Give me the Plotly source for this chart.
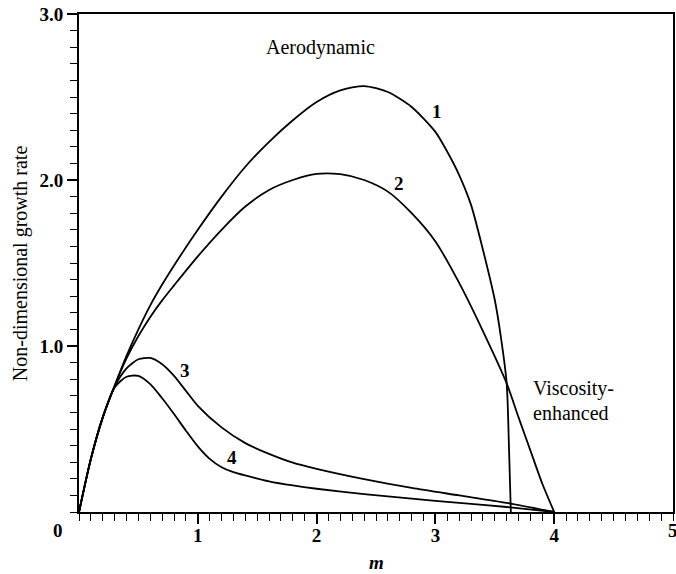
import plotly.graph_objects as go

# Curve data (m, non-dimensional growth rate)
m1 = [0, 0.1, 0.2, 0.3, 0.4, 0.5, 0.6, 0.7, 0.8, 1.0, 1.2, 1.4, 1.6, 1.8, 2.0, 2.2, 2.4, 2.6, 2.8, 3.0, 3.1, 3.2, 3.3, 3.4, 3.5, 3.55, 3.6, 3.62, 3.635]
g1 = [0, 0.32, 0.57, 0.76, 0.94, 1.10, 1.245, 1.37, 1.485, 1.70, 1.90, 2.08, 2.23, 2.36, 2.47, 2.54, 2.566, 2.53, 2.44, 2.29, 2.17, 2.03, 1.85, 1.58, 1.277, 1.06, 0.775, 0.373, 0]

m2 = [0, 0.1, 0.2, 0.3, 0.4, 0.5, 0.6, 0.7, 0.8, 1.0, 1.2, 1.4, 1.6, 1.8, 2.0, 2.2, 2.4, 2.6, 2.8, 3.0, 3.2, 3.4, 3.6, 3.7, 3.8, 3.9, 4.0]
g2 = [0, 0.32, 0.57, 0.76, 0.925, 1.06, 1.175, 1.275, 1.365, 1.54, 1.70, 1.84, 1.94, 2.0, 2.037, 2.035, 2.0, 1.93, 1.80, 1.63, 1.38, 1.09, 0.775, 0.57, 0.37, 0.17, 0]

m3 = [0, 0.1, 0.2, 0.3, 0.4, 0.5, 0.6, 0.7, 0.8, 0.9, 1.0, 1.2, 1.4, 1.6, 1.8, 2.0, 2.4, 2.8, 3.2, 3.6, 4.0]
g3 = [0, 0.32, 0.57, 0.755, 0.865, 0.92, 0.928, 0.89, 0.82, 0.73, 0.64, 0.51, 0.415, 0.35, 0.297, 0.26, 0.198, 0.145, 0.10, 0.055, 0]

m4 = [0, 0.1, 0.2, 0.3, 0.4, 0.5, 0.6, 0.7, 0.8, 0.9, 1.0, 1.1, 1.2, 1.3, 1.4, 1.6, 1.8, 2.0, 2.4, 2.8, 3.2, 3.6, 4.0]
g4 = [0, 0.32, 0.57, 0.75, 0.815, 0.82, 0.77, 0.685, 0.59, 0.49, 0.395, 0.32, 0.27, 0.24, 0.22, 0.185, 0.16, 0.14, 0.108, 0.08, 0.055, 0.03, 0]

curve_labels = ["1", "2", "3", "4"]
label_m = [3.01, 2.69, 0.89, 1.29]
label_g = [2.41, 1.98, 0.855, 0.33]

FONT = "Liberation Serif"
BLACK = "black"

fig = go.Figure()
for mx, gy in [(m1, g1), (m2, g2), (m3, g3), (m4, g4)]:
    fig.add_trace(go.Scatter(x=mx, y=gy, mode="lines",
                             line=dict(color=BLACK, width=1.8, shape="spline", smoothing=0.7),
                             showlegend=False, hoverinfo="skip"))

def txt(size):
    return dict(family=FONT, size=size, color=BLACK)

annotations = []
for t, x, y in zip(curve_labels, label_m, label_g):
    annotations.append(dict(x=x, y=y, xref="x", yref="y", text="<b>" + t + "</b>", showarrow=False,
                            xanchor="center", yanchor="middle", font=txt(19)))
annotations += [
    dict(x=(322 - 79) / 119.3, y=(512 - 47) / 166, xref="x", yref="y", text="Aerodynamic",
         xanchor="center", yanchor="middle", showarrow=False, font=txt(20)),
    dict(x=3.806, y=0.747, xref="x", yref="y", text="Viscosity-", xanchor="left", yanchor="middle",
         showarrow=False, font=txt(20)),
    dict(x=3.806, y=0.596, xref="x", yref="y", text="enhanced", xanchor="left", yanchor="middle",
         showarrow=False, font=txt(20)),
    dict(x=(58 - 79) / 596, y=(512 - 530) / 498, xref="paper", yref="paper", text="<b>0</b>",
         xanchor="center", yanchor="middle", showarrow=False, font=txt(19)),
    dict(x=1.0, y=(512 - 530) / 498, xref="paper", yref="paper", text="<b>5</b>",
         xanchor="center", yanchor="middle", showarrow=False, font=txt(19)),
    dict(x=0.5, y=(512 - 562) / 498, xref="paper", yref="paper", text="<b><i>m</i></b>",
         xanchor="center", yanchor="middle", showarrow=False, font=txt(19)),
    dict(x=(20 - 79) / 596, y=0.5, xref="paper", yref="paper", text="Non-dimensional growth rate",
         xanchor="center", yanchor="middle", textangle=-90, showarrow=False, font=txt(20)),
]

fig.update_layout(
    width=676, height=574,
    margin=dict(l=79, r=1, t=14, b=62),
    paper_bgcolor="white", plot_bgcolor="white",
    annotations=annotations,
)
fig.update_xaxes(
    range=[0, 5], showline=True, linecolor=BLACK, linewidth=2, mirror=True,
    ticks="outside", ticklen=10, tickwidth=1.5, tickcolor=BLACK,
    tickmode="array", tickvals=[1, 2, 3, 4], ticktext=["<b>1</b>", "<b>2</b>", "<b>3</b>", "<b>4</b>"],
    ticklabelstandoff=-5,
    showgrid=False, zeroline=False,
    tickfont=txt(19),
    minor=dict(tickmode="linear", tick0=0, dtick=0.1, ticks="outside", ticklen=7,
               tickwidth=1, tickcolor=BLACK, showgrid=False),
)
fig.update_yaxes(
    range=[0, 3], showline=True, linecolor=BLACK, linewidth=2, mirror=True,
    ticks="outside", ticklen=10, tickwidth=1.5, tickcolor=BLACK,
    tickmode="array", tickvals=[1, 2, 3], ticktext=["<b>1.0</b>", "<b>2.0</b>", "<b>3.0</b>"],
    showgrid=False, zeroline=False,
    tickfont=txt(19),
    minor=dict(tickmode="linear", tick0=0, dtick=0.1, ticks="outside", ticklen=7,
               tickwidth=1, tickcolor=BLACK, showgrid=False),
)

fig.write_html("out.html")
